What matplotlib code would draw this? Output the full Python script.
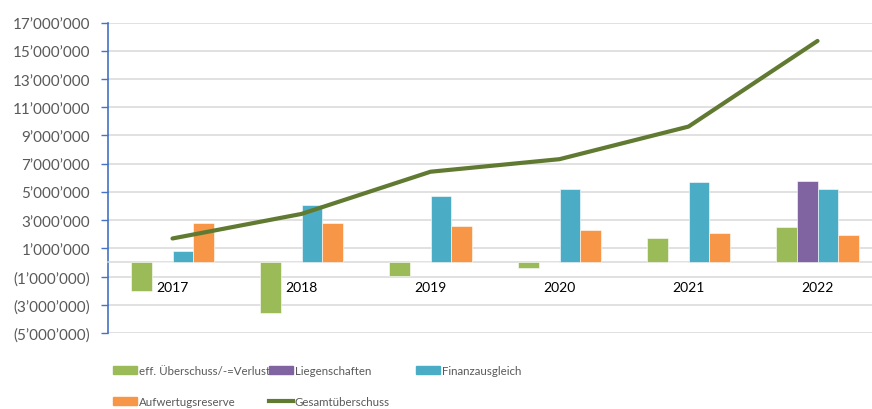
import numpy as np
import matplotlib.pyplot as plt
from matplotlib.patches import Patch
from matplotlib.lines import Line2D

plt.rcParams['font.family'] = ['Lato', 'DejaVu Sans']

# data (CHF)
years = ['2017', '2018', '2019', '2020', '2021', '2022']
ueberschuss = [-2000000, -3600000, -970000, -420000, 1700000, 2520000]
liegenschaften = [0, 0, 0, 0, 0, 5750000]
finanzausgleich = [780000, 4100000, 4690000, 5230000, 5670000, 5230000]
aufwertung = [2830000, 2830000, 2610000, 2330000, 2120000, 1930000]
gesamt = [1700000, 3440000, 6430000, 7320000, 9630000, 15700000]

names = ['eff. Überschuss/-=Verlust', 'Liegenschaften', 'Finanzausgleich',
         'Aufwertugsreserve', 'Gesamtüberschuss']
colors = ['#9bbb59', '#8064a2', '#4bacc6', '#f79646']
line_color = '#617a32'
text_color = '#595959'

fig = plt.figure(figsize=(8.72, 4.10), dpi=100)
ax = fig.add_axes([108 / 872, 1 - 334 / 410, 774 / 872, (334 - 23.6) / 410])

x = np.arange(len(years))
w = 0.16
series = [ueberschuss, liegenschaften, finanzausgleich, aufwertung]
for i, (vals, c) in enumerate(zip(series, colors)):
    ax.bar(x + (i - 1.5) * w, vals, w, color=c, edgecolor='white', linewidth=0.4, zorder=3)

ax.plot(x, gesamt, color=line_color, lw=3, solid_capstyle='round', zorder=4)

ax.set_xlim(-0.5, 5.5)
ax.set_ylim(-5000000, 17000000)
yt = np.arange(-5000000, 17000001, 2000000)
ax.set_yticks(yt)


def fmt(v):
    s = f"{abs(int(v)):,}".replace(",", "\u2019")
    return f"({s})" if v < 0 else s


ax.set_yticklabels([fmt(v) for v in yt], color=text_color, fontsize=11)
ax.yaxis.grid(True, color='#d9d9d9', lw=1.1, zorder=0)
ax.tick_params(axis='y', length=5, width=1, color='#4472c4', pad=8)

ax.set_xticks(x)
ax.set_xticklabels(years, color=text_color, fontsize=11)
ax.tick_params(axis='x', length=0, pad=13)
ax.spines['bottom'].set_position(('data', 0))
ax.spines['bottom'].set_color('#d9d9d9')
ax.spines['bottom'].set_linewidth(1.1)
ax.spines['left'].set_color('#4472c4')
ax.spines['left'].set_linewidth(1.2)
ax.spines['top'].set_visible(False)
ax.spines['right'].set_visible(False)

# legend, three columns at fixed positions
handles = [Patch(color=c) for c in colors] + [Line2D([], [], color=line_color, lw=3)]
cols = [[0, 3], [1, 4], [2]]
xs = [113, 269, 416]
for col, xp in zip(cols, xs):
    leg = fig.legend([handles[k] for k in col], [names[k] for k in col],
                     loc='upper left', bbox_to_anchor=(xp / 872, 1 - 366 / 410),
                     frameon=False, fontsize=8.3, handlelength=2.05, handleheight=0.6,
                     handletextpad=0.2, labelspacing=1.75, borderpad=0, borderaxespad=0)
    for t in leg.get_texts():
        t.set_color(text_color)

fig.savefig('out.png', dpi=100)
